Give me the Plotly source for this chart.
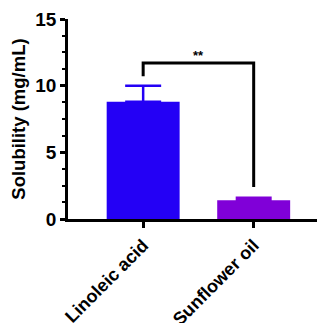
import plotly.graph_objects as go

categories = ["Linoleic acid", "Sunflower oil"]
means = [8.8, 1.4]
errors = [1.2, 0.2]
colors = ["#2400F5", "#8000D8"]
bracket_x = [0, 0, 1, 1]
bracket_y = [10.7, 11.7, 11.7, 2.4]
sig_label = "**"
y_ticks = [0, 5, 10, 15]

fig = go.Figure()
for i, (c, m, e, col) in enumerate(zip(categories, means, errors, colors)):
    fig.add_trace(go.Bar(
        x=[i], y=[m], width=0.66, marker=dict(color=col, line=dict(width=0)),
        error_y=dict(type="data", symmetric=False, array=[e], arrayminus=[0],
                     color=col, thickness=2.5, width=18),
        showlegend=False))

fig.add_trace(go.Scatter(x=bracket_x, y=bracket_y, mode="lines",
                         line=dict(color="black", width=3), showlegend=False,
                         hoverinfo="skip"))
fig.add_annotation(x=0.5, y=bracket_y[1], text="<b>" + sig_label + "</b>", showarrow=False,
                   yanchor="bottom", yshift=-2, font=dict(size=13, color="black"))

fig.update_layout(
    width=317, height=315,
    margin=dict(l=60, r=5, t=11, b=104),
    paper_bgcolor="white", plot_bgcolor="white",
    font=dict(family="Liberation Sans, Arial", color="black"),
    barmode="overlay",
)
fig.update_xaxes(
    automargin=False,
    range=[-0.68, 1.6], tickmode="array", tickvals=[0, 1],
    ticktext=["<b>" + c + "</b>" for c in categories],
    tickangle=-45, tickfont=dict(size=18, color="black"),
    showline=True, linecolor="black", linewidth=2.5,
    ticks="outside", ticklen=6, tickwidth=2.5, tickcolor="black",
    showgrid=False, zeroline=False,
)
fig.update_yaxes(
    automargin=False,
    range=[0, 15], tickmode="array", tickvals=y_ticks,
    ticktext=["<b>%d</b>" % v for v in y_ticks],
    tickfont=dict(size=19, color="black"),
    title=dict(text="<b>Solubility (mg/mL)</b>", font=dict(size=18.5, color="black"), standoff=8),
    showline=True, linecolor="black", linewidth=2.5,
    ticks="outside", ticklen=5, tickwidth=2.5, tickcolor="black",
    minor=dict(dtick=1.25, ticks="outside", ticklen=3.5, tickwidth=1.5, tickcolor="black", showgrid=False),
    showgrid=False, zeroline=False,
)

fig.write_html("out.html")
